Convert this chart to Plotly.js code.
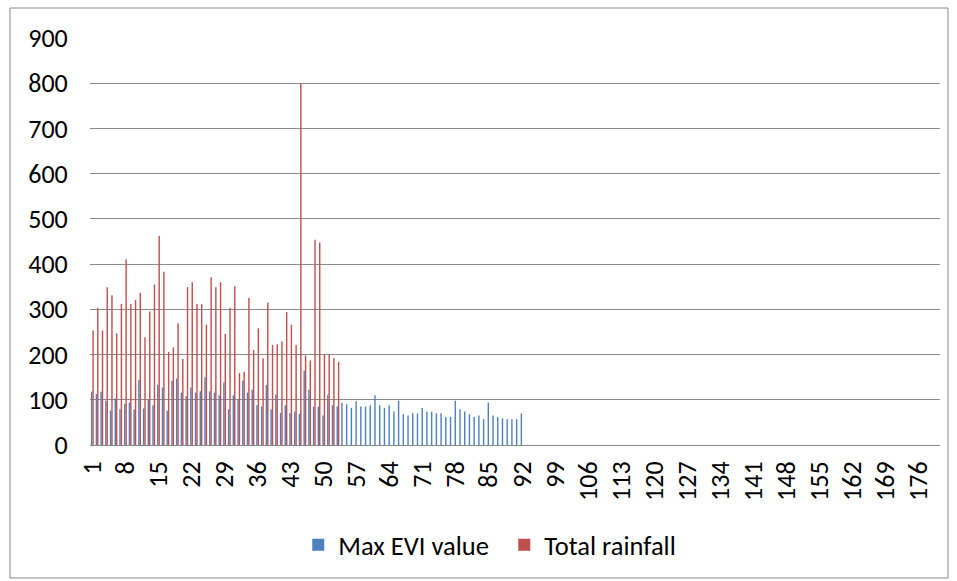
<!DOCTYPE html>
<html>
<head>
<meta charset="utf-8">
<script src="https://cdn.plot.ly/plotly-3.0.1.min.js"></script>
<style>
html,body{margin:0;padding:0;background:#fff;}
#chart{width:957px;height:581px;}
</style>
</head>
<body>
<div id="chart"></div>
<script>
// Category count on the x axis (periods 1..180)
const categoryCount = 180;
const categories = Array.from({length: categoryCount}, (_, i) => String(i + 1));

// Tick labels shown on the x axis
const xTickLabels = ['1','8','15','22','29','36','43','50','57','64','71','78','85','92','99','106','113','120','127','134','141','148','155','162','169','176'];

// Max EVI value (periods 1..92)
const maxEVI = [118,113,118,98,76,103,79,91,94,79,144,81,101,88,133,127,76,142,147,116,
  108,127,116,119,150,119,116,110,139,79,110,101,142,116,122,88,85,133,79,111,
  71,88,71,74,69,164,122,85,85,65,110,88,85,93,90,82,97,85,85,88,
  110,88,82,88,74,98,68,65,70,70,82,74,74,70,70,62,62,98,79,74,
  68,62,65,57,94,65,62,59,57,57,57,70];

// Total rainfall (periods 1..53)
const totalRainfall = [253,303,253,349,331,247,312,411,312,321,336,238,295,355,462,383,206,216,269,190,
  349,360,312,312,266,371,349,360,246,303,351,159,162,325,210,258,192,315,221,223,
  229,294,266,221,800,198,187,454,448,200,200,192,184];

const seriesNames = ['Max EVI value', 'Total rainfall'];

const font = 'Carlito, Calibri, "Open Sans", "Liberation Sans", sans-serif';

const traces = [
  {type:'bar', name: seriesNames[0], x: categories.slice(0, maxEVI.length), y: maxEVI,
   marker:{color:'#4F81BD'}},
  {type:'bar', name: seriesNames[1], x: categories.slice(0, totalRainfall.length), y: totalRainfall,
   marker:{color:'#C0504D'}}
];

const layout = {
  width: 957, height: 581,
  margin: {l: 90, r: 17, t: 38, b: 136},
  paper_bgcolor: '#ffffff', plot_bgcolor: '#ffffff',
  barmode: 'group', bargap: 0.4, bargroupgap: 0,
  font: {family: font, size: 26, color: '#000000'},
  showlegend: true,
  legend: {orientation: 'h', x: 0.245, xanchor: 'left', y: -0.246, yanchor: 'middle',
           entrywidth: 161, entrywidthmode: 'pixels',
           font: {family: font, size: 26.5, color: '#000'}, traceorder: 'normal'},
  xaxis: {type: 'category', categoryorder: 'array', categoryarray: categories,
          range: [-0.5, categoryCount - 0.5],
          tickmode: 'array', tickvals: xTickLabels, ticktext: xTickLabels,
          tickangle: -90, showgrid: false, showline: true, linecolor: '#868686', linewidth: 1,
          ticks: 'outside', ticklen: 5, tickcolor: 'rgba(0,0,0,0)',
          tickfont: {family: font, size: 26, color: '#000'}, fixedrange: true},
  yaxis: {range: [0, 900], dtick: 100, tick0: 0, showgrid: true, gridcolor: '#8a8a8a', gridwidth: 1,
          zeroline: false, showline: false, ticks: 'outside', ticklen: 16, tickcolor: 'rgba(0,0,0,0)',
          tickfont: {family: font, size: 26, color: '#000'}, fixedrange: true},
  shapes: [{type: 'rect', xref: 'paper', yref: 'paper',
            x0: -0.0941, x1: 1.0094, y0: -0.3268, y1: 1.0737,
            line: {color: '#8a8a8a', width: 1}, fillcolor: 'rgba(0,0,0,0)'}]
};

Plotly.newPlot('chart', traces, layout, {displayModeBar: false, staticPlot: true});
</script>
</body>
</html>
